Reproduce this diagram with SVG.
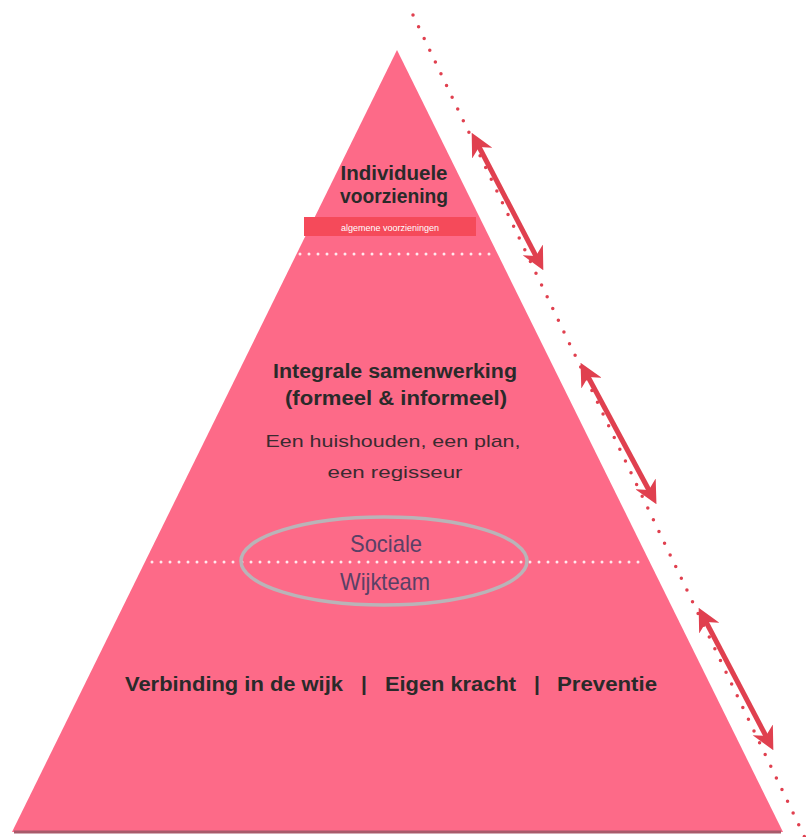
<svg xmlns="http://www.w3.org/2000/svg" width="807" height="837" viewBox="0 0 807 837">
<style>
.h{font-family:"Liberation Sans",Arial,sans-serif;font-weight:bold;font-size:20px;fill:#2a2a2a;text-anchor:middle}
.hs{font-family:"Liberation Sans",Arial,sans-serif;font-weight:bold;font-size:21px;fill:#2a2a2a}
.n{font-family:"Liberation Sans",Arial,sans-serif;font-size:17px;fill:#3a2a30;text-anchor:middle}
.s{font-family:"Liberation Sans",Arial,sans-serif;font-size:24px;fill:#5a4066;text-anchor:middle}
.wd{stroke:#ffffff;stroke-width:3;stroke-linecap:round;stroke-dasharray:0 9;fill:none;opacity:0.85}
.arr{stroke:#e0404f;stroke-width:5;fill:none}
</style>
<defs>
<marker id="ah" viewBox="0 0 10 10" refX="5" refY="5" markerWidth="4.6" markerHeight="4.6" orient="auto-start-reverse">
<path d="M0,0 L10,5 L0,10 L3,5 z" fill="#e0404f"/>
</marker>
</defs>
<rect width="807" height="837" fill="#ffffff"/>
<g id="pyramid">
<polygon points="397,50 12,832 783,832" fill="#fd6a88"/>
<line x1="14" y1="832" x2="781" y2="832" stroke="#a85a6a" stroke-width="3"/>
<rect x="304" y="217" width="172" height="19" fill="#f54a5a"/>
<text x="390" y="231" font-family="Liberation Sans,Arial,sans-serif" font-size="9" fill="#ffffff" text-anchor="middle">algemene voorzieningen</text>
<line class="wd" x1="300" y1="254" x2="492" y2="254"/>
<line class="wd" x1="152" y1="562" x2="642" y2="562"/>
</g>
<g id="top">
<text class="h" x="394" y="180" textLength="107" lengthAdjust="spacingAndGlyphs">Individuele</text>
<text class="h" x="394" y="203" textLength="108" lengthAdjust="spacingAndGlyphs">voorziening</text>
</g>
<g id="middle">
<text class="h" x="395" y="378" textLength="244" lengthAdjust="spacingAndGlyphs">Integrale samenwerking</text>
<text class="h" x="396" y="405" textLength="222" lengthAdjust="spacingAndGlyphs">(formeel &amp; informeel)</text>
<text class="n" x="393" y="447" textLength="255" lengthAdjust="spacingAndGlyphs">Een huishouden, een plan,</text>
<text class="n" x="395" y="478" textLength="135" lengthAdjust="spacingAndGlyphs">een regisseur</text>
</g>
<g id="wijkteam">
<ellipse cx="384" cy="561" rx="143" ry="44" fill="none" stroke="#b9b4b8" stroke-width="3.5"/>
<text class="s" x="386" y="552" textLength="72" lengthAdjust="spacingAndGlyphs">Sociale</text>
<text class="s" x="385" y="590" textLength="90" lengthAdjust="spacingAndGlyphs">Wijkteam</text>
</g>
<g id="bottom">
<text class="hs" x="125" y="691" textLength="218" lengthAdjust="spacingAndGlyphs">Verbinding in de wijk</text>
<text class="hs" x="361" y="691">|</text>
<text class="hs" x="385" y="691" textLength="131" lengthAdjust="spacingAndGlyphs">Eigen kracht</text>
<text class="hs" x="534" y="691">|</text>
<text class="hs" x="557" y="691" textLength="100" lengthAdjust="spacingAndGlyphs">Preventie</text>
</g>
<g id="connectors">
<line x1="413" y1="15" x2="805" y2="838" stroke="#e0404f" stroke-width="3.5" stroke-linecap="round" stroke-dasharray="0 13"/>
<line class="arr" x1="477" y1="143" x2="538" y2="260" marker-start="url(#ah)" marker-end="url(#ah)"/>
<line class="arr" x1="586" y1="373" x2="651" y2="494" marker-start="url(#ah)" marker-end="url(#ah)"/>
<line class="arr" x1="704" y1="618" x2="768" y2="740" marker-start="url(#ah)" marker-end="url(#ah)"/>
</g>
</svg>
